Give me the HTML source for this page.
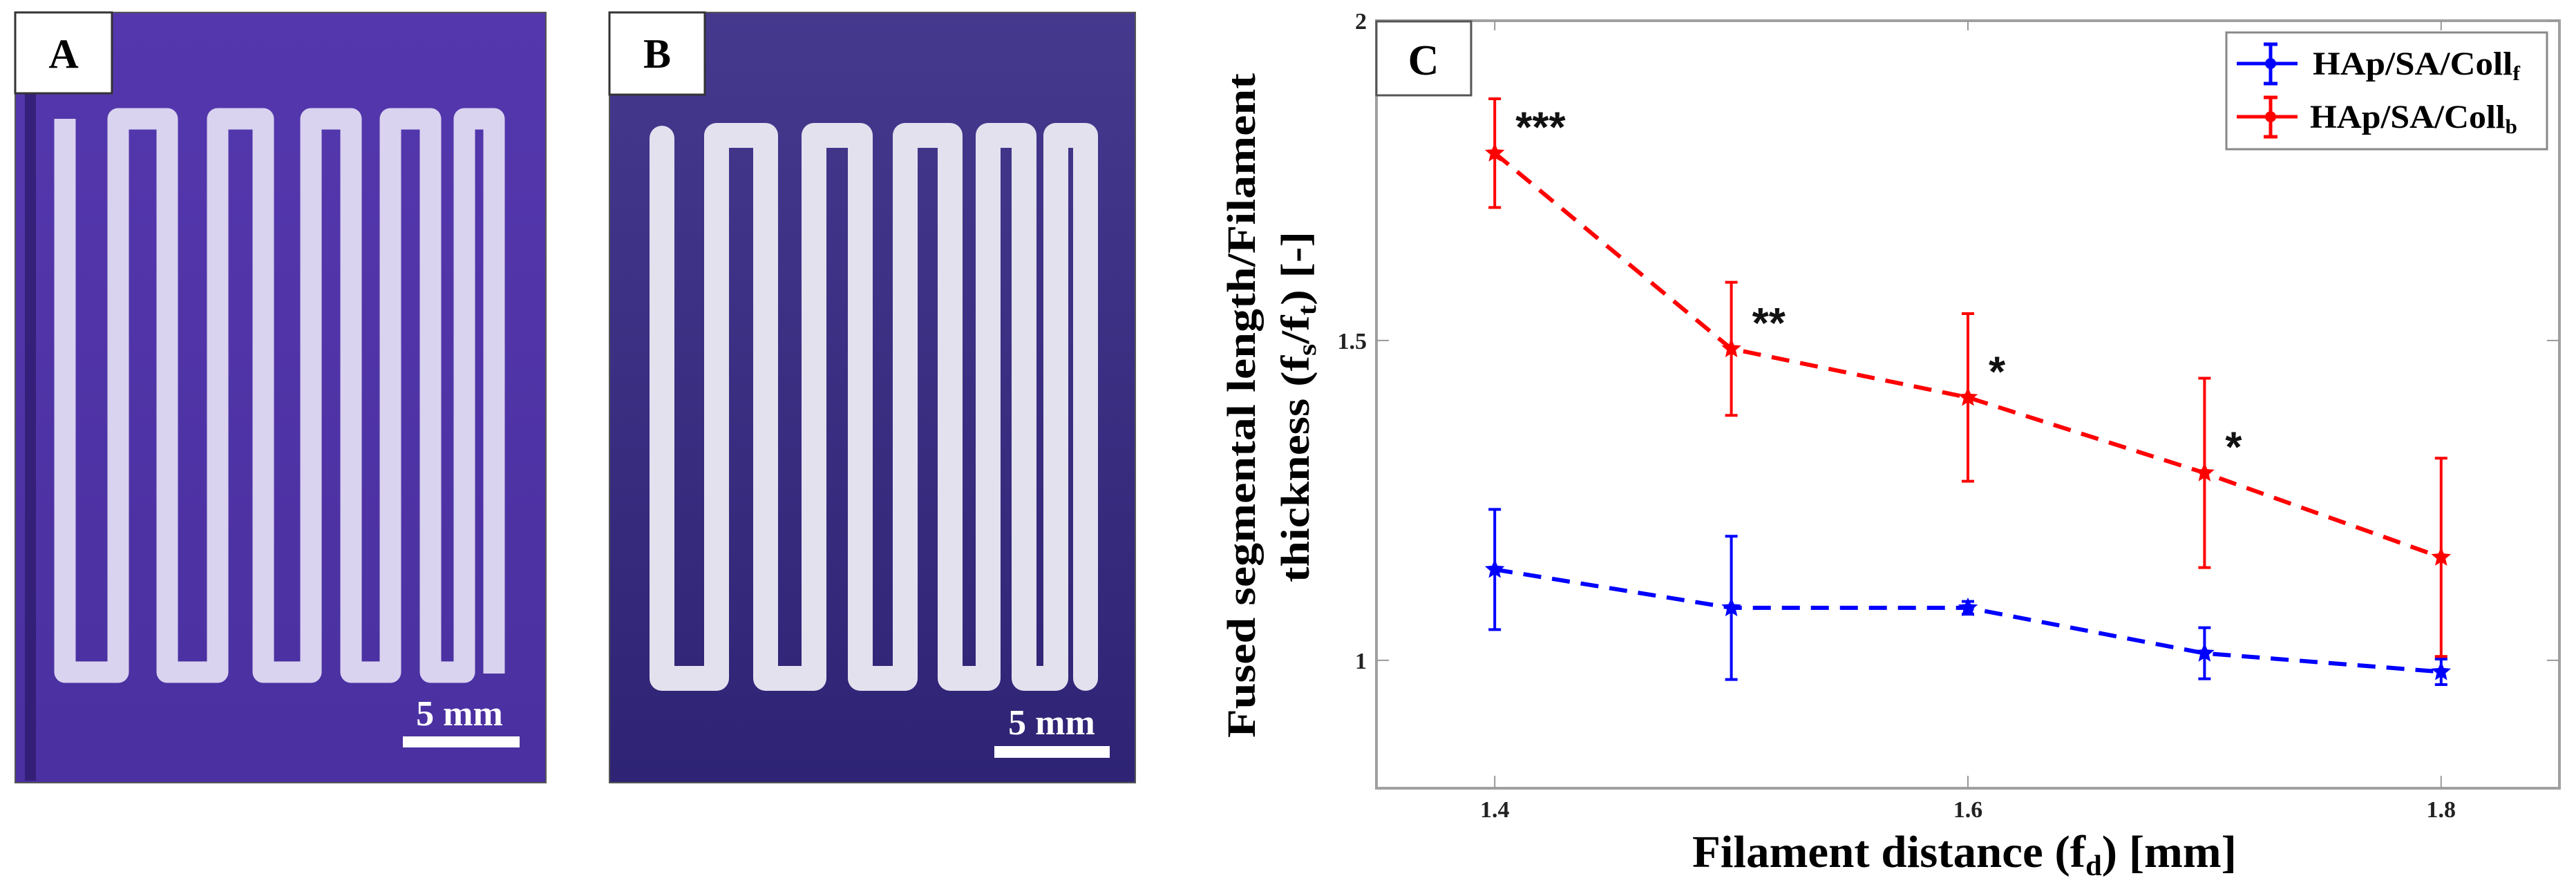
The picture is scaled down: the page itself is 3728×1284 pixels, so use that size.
<!DOCTYPE html>
<html><head><meta charset="utf-8"><style>
html,body{margin:0;padding:0;background:#fff;}
svg{display:block;font-family:"Liberation Serif",serif;}
</style></head><body>
<svg width="3728" height="1284" viewBox="0 0 3728 1284" xmlns="http://www.w3.org/2000/svg">
<defs>
<linearGradient id="gA" x1="0" y1="0" x2="0" y2="1"><stop offset="0" stop-color="#5437ad"/><stop offset="1" stop-color="#4a30a0"/></linearGradient>
<linearGradient id="gB" x1="0" y1="0" x2="0" y2="1"><stop offset="0" stop-color="#45398e"/><stop offset="1" stop-color="#2e2374"/></linearGradient>
</defs>
<!-- Panel A -->
<g>
<rect x="22" y="18" width="768" height="1115" fill="url(#gA)" stroke="#555" stroke-width="2"/>
<rect x="36" y="40" width="16" height="1090" fill="#2a1866" opacity="0.7"/>
<path d="M94 172 L94 973 L171 973 L171 172 L242 172 L242 973 L315 973 L315 172 L381 172 L381 973 L450 973 L450 172 L508 172 L508 973 L565 973 L565 172 L623 172 L623 973 L672 973 L672 172 L715 172 L715 975" fill="none" stroke="#d9d3ef" stroke-width="31" stroke-linejoin="round"/>
<rect x="22" y="18" width="140" height="117" fill="#fff" stroke="#333" stroke-width="3"/>
<text x="92" y="98" font-size="60" font-weight="bold" text-anchor="middle">A</text>
<text x="665" y="1050" font-size="52" font-weight="bold" fill="#fff" text-anchor="middle">5 mm</text>
<rect x="583" y="1066" width="169" height="16" fill="#fff"/>
</g>
<!-- Panel B -->
<g>
<rect x="882" y="18" width="761" height="1115" fill="url(#gB)" stroke="#555" stroke-width="2"/>
<path d="M958 200 L958 982 L1037 982 L1037 196 L1108 196 L1108 982 L1178 982 L1178 196 L1245 196 L1245 982 L1310 982 L1310 196 L1375 196 L1375 982 L1430 982 L1430 196 L1482 196 L1482 982 L1528 982 L1528 196 L1571 196 L1571 982" fill="none" stroke="#e3e1ee" stroke-width="36" stroke-linejoin="round" stroke-linecap="round"/>
<rect x="882" y="18" width="138" height="119" fill="#fff" stroke="#333" stroke-width="3"/>
<text x="951" y="98" font-size="60" font-weight="bold" text-anchor="middle">B</text>
<text x="1522" y="1063" font-size="52" font-weight="bold" fill="#fff" text-anchor="middle">5 mm</text>
<rect x="1439" y="1080" width="167" height="17" fill="#fff"/>
</g>
<!-- Chart -->
<g id="chart">
<rect x="1992" y="30" width="1712" height="1111" fill="#fff" stroke="#a0a0a0" stroke-width="4"/>
<g id="ticks"></g>
<g id="series"></g>
<rect x="1992" y="31" width="137" height="107" fill="#fff" stroke="#555" stroke-width="3"/>
<text x="2060" y="108" font-size="62" font-weight="bold" text-anchor="middle">C</text>
<text id="sig"></text>
<g>
<rect x="3222" y="47" width="464" height="169" fill="#fff" stroke="#888" stroke-width="3"/>
<g>
<line x1="3237" y1="92" x2="3325" y2="92" stroke="#0000ff" stroke-width="5"/>
<line x1="3286" y1="64" x2="3286" y2="121" stroke="#0000ff" stroke-width="5"/>
<line x1="3276" y1="64" x2="3296" y2="64" stroke="#0000ff" stroke-width="5"/>
<line x1="3276" y1="121" x2="3296" y2="121" stroke="#0000ff" stroke-width="5"/>
<circle cx="3286" cy="92" r="8" fill="#0000ff"/>
<text x="3347" y="108" font-size="48" font-weight="bold" textLength="300" lengthAdjust="spacingAndGlyphs">HAp/SA/Coll<tspan font-size="30" dy="8">f</tspan></text>
</g>
<g>
<line x1="3237" y1="169" x2="3325" y2="169" stroke="#ff0000" stroke-width="5"/>
<line x1="3286" y1="141" x2="3286" y2="198" stroke="#ff0000" stroke-width="5"/>
<line x1="3276" y1="141" x2="3296" y2="141" stroke="#ff0000" stroke-width="5"/>
<line x1="3276" y1="198" x2="3296" y2="198" stroke="#ff0000" stroke-width="5"/>
<circle cx="3286" cy="169" r="8" fill="#ff0000"/>
<text x="3343" y="185" font-size="48" font-weight="bold" textLength="300" lengthAdjust="spacingAndGlyphs">HAp/SA/Coll<tspan font-size="30" dy="8">b</tspan></text>
</g>
</g>
<text x="2843" y="1255" font-size="66" font-weight="bold" text-anchor="middle" textLength="788" lengthAdjust="spacingAndGlyphs">Filament distance (f<tspan font-size="42" dy="12">d</tspan><tspan dy="-12">) [mm]</tspan></text>
<text transform="translate(1816,587) rotate(-90)" font-size="58" font-weight="bold" text-anchor="middle" textLength="962" lengthAdjust="spacingAndGlyphs">Fused segmental length/Filament</text>
<text transform="translate(1894,589) rotate(-90)" font-size="58" font-weight="bold" text-anchor="middle" textLength="508" lengthAdjust="spacingAndGlyphs">thickness (f<tspan font-size="38" dy="10">s</tspan><tspan dy="-10">/f</tspan><tspan font-size="38" dy="10">t</tspan><tspan dy="-10">) [-]</tspan></text>
</g>
</svg>
<script>
const categories = [1.4, 1.5, 1.6, 1.7, 1.8];
const seriesF = [1.142, 1.082, 1.082, 1.011, 0.982];
const errF = [0.094, 0.112, 0.01, 0.04, 0.02];
const seriesB = [1.793, 1.487, 1.411, 1.293, 1.161];
const errB = [0.085, 0.104, 0.131, 0.148, 0.155];
const sigLabels = ["***", "**", "*", "*", ""];
const xTicks = [1.4, 1.6, 1.8];
const xTickLabels = ["1.4", "1.6", "1.8"];
const yTicks = [1, 1.5, 2];
const yTickLabels = ["1", "1.5", "2"];

const NS = "http://www.w3.org/2000/svg";
const X0 = 1992, X1 = 3704, Y0 = 30, Y1 = 1141;
const xMin = 1.35, xMax = 1.85, yMin = 0.8, yMax = 2.0;
function xs(v){ return X0 + (v - xMin) / (xMax - xMin) * (X1 - X0); }
function ys(v){ return Y1 - (v - yMin) / (yMax - yMin) * (Y1 - Y0); }
function mk(tag, attrs, parent){ const e = document.createElementNS(NS, tag); for (const k in attrs) e.setAttribute(k, attrs[k]); parent.appendChild(e); return e; }

const ticks = document.getElementById('ticks');
xTicks.forEach((t, i) => {
  const l = mk('line', {x1: xs(t), x2: xs(t), y1: Y1, y2: Y1 - 18, stroke: '#999', 'stroke-width': 2}, ticks);
  
  
  const l2 = mk('line', {x1: xs(t), x2: xs(t), y1: Y0, y2: Y0 + 14, stroke: '#999', 'stroke-width': 2}, ticks);
  
  
  const tx = mk('text', {x: xs(t), y: 1183, 'font-size': 34, 'font-weight': 'bold', 'text-anchor': 'middle', fill: '#222'}, ticks);
  tx.textContent = xTickLabels[i];
  
  
});
yTicks.forEach((t, i) => {
  const l = mk('line', {x1: X0, x2: X0 + 18, y1: ys(t), y2: ys(t), stroke: '#999', 'stroke-width': 2}, ticks);
  
  
  const l2 = mk('line', {x1: X1, x2: X1 - 18, y1: ys(t), y2: ys(t), stroke: '#999', 'stroke-width': 2}, ticks);
  
  
  const tx = mk('text', {x: X0 - 14, y: ys(t) + 12, 'font-size': 34, 'font-weight': 'bold', 'text-anchor': 'end', fill: '#222'}, ticks);
  tx.textContent = yTickLabels[i];
  
  
});

const series = document.getElementById('series');
function star(cx, cy, r, color, parent){
  let d = '';
  for (let k = 0; k < 10; k++) {
    const a = -Math.PI / 2 + k * Math.PI / 5;
    const rr = k % 2 ? r * 0.45 : r;
    d += (k ? 'L' : 'M') + (cx + rr * Math.cos(a)).toFixed(1) + ' ' + (cy + rr * Math.sin(a)).toFixed(1);
  }
  return mk('path', {d: d + 'Z', fill: color}, parent);
}
function drawSeries(vals, errs, color, name){
  const g = mk('g', {}, series);
  
  
  const pts = categories.map((c, i) => xs(c) + ',' + ys(vals[i])).join(' ');
  const pl = mk('polyline', {points: pts, fill: 'none', stroke: color, 'stroke-width': 6, 'stroke-dasharray': '26 16'}, g);
  
  
  categories.forEach((c, i) => {
    const x = xs(c), yt = ys(vals[i] + errs[i]), yb = ys(vals[i] - errs[i]);
    const eb = mk('path', {d: `M${x} ${yt}L${x} ${yb}M${x-9} ${yt}L${x+9} ${yt}M${x-9} ${yb}L${x+9} ${yb}`, stroke: color, 'stroke-width': 4, fill: 'none'}, g);
    
    
    const s = star(x, ys(vals[i]), 15, color, g);
    
    
  });
}
drawSeries(seriesF, errF, '#0000ff', 'series-coll-f');
drawSeries(seriesB, errB, '#ff0000', 'series-coll-b');

const sigG = mk('g', {}, document.getElementById('chart'));


categories.forEach((c, i) => {
  if (!sigLabels[i]) return;
  const t = mk('text', {x: xs(c) + 30, y: ys(seriesB[i]) - 16, 'font-size': 62, 'font-weight': 'bold', fill: '#111', 'font-family': 'Liberation Sans, sans-serif'}, sigG);
  t.textContent = sigLabels[i];
  
  
});
</script>
</body></html>
